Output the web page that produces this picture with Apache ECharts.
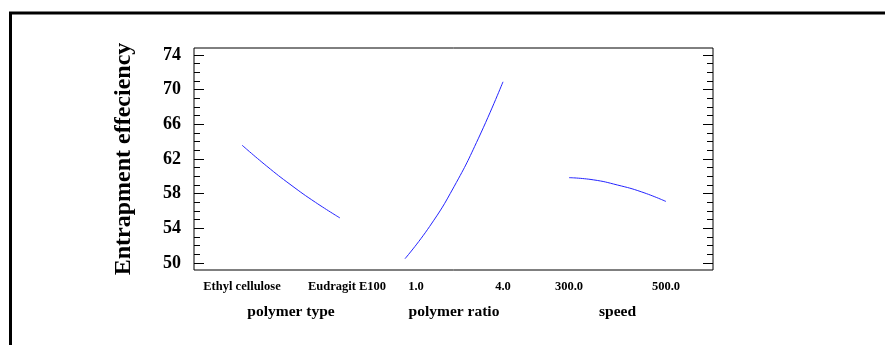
<!DOCTYPE html>
<html><head><meta charset="utf-8">
<script src="https://cdn.jsdelivr.net/npm/echarts@6/dist/echarts.min.js"></script>
<style>html,body{margin:0;padding:0;background:#fff}#c{width:885px;height:345px}</style>
</head><body><div id="c"></div>
<script>
// ---- data ----
const yTickValues = [50, 54, 58, 62, 66, 70, 74];
const yMinorValues = [50,51,52,53,54,55,56,57,58,59,60,61,62,63,64,65,66,67,68,69,70,71,72,73,74];
const yAxisTitle = 'Entrapment effeciency';
const factorNames = ['polymer type', 'polymer ratio', 'speed'];

const typeTicks = [-1, 1];
const typeTickLabels = ['Ethyl cellulose', 'Eudragit E100'];
const typeX = [-1, -0.5, 0, 0.5, 1];
const typeY = [63.6, 61.2, 59.0, 57.0, 55.2];

const ratioTicks = [1.0, 4.0];
const ratioTickLabels = ['1.0', '4.0'];
const ratioX = [1.0, 1.75, 2.5, 3.25, 4.0];
const ratioY = [50.5, 54.2, 58.8, 64.4, 70.9];

const speedTicks = [300, 500];
const speedTickLabels = ['300.0', '500.0'];
const speedX = [300, 350, 400, 450, 500];
const speedY = [59.85, 59.6, 59.0, 58.2, 57.1];

// ---- chart ----
const FONT = '"Liberation Serif", "Times New Roman", serif';
const Y_MIN = 49.2, Y_MAX = 74.8;
const TOP = 48, HEIGHT = 222;

function zip(xs, ys) { return xs.map((x, i) => [x, ys[i]]); }

function panelX(gridIndex, ticks, labels, name, pads) {
  return {
    type: 'value', gridIndex, min: ticks[0], max: ticks[ticks.length - 1],
    axisLine: {show: false}, axisTick: {show: false}, splitLine: {show: false},
    axisLabel: {
      customValues: ticks, margin: 10, showMinLabel: true, showMaxLabel: true,
      formatter: function (v) {
        const i = ticks.indexOf(v);
        return '{' + (pads[i] ? 'p' + i : 'n') + '|' + labels[i] + '}';
      },
      rich: {
        n: {fontFamily: FONT, fontWeight: 'bold', fontSize: 12.5, color: '#000'},
        p0: {fontFamily: FONT, fontWeight: 'bold', fontSize: 12.5, color: '#000', padding: [0, 0, 0, pads[0] || 0]},
        p1: {fontFamily: FONT, fontWeight: 'bold', fontSize: 12.5, color: '#000', padding: [0, 0, 0, pads[1] || 0]}
      }
    },
    name: name, nameLocation: 'middle', nameGap: 34,
    nameTextStyle: {fontFamily: FONT, fontWeight: 'bold', fontSize: 15.5, color: '#000'}
  };
}

function hiddenY(gridIndex) {
  return {type: 'value', gridIndex, min: Y_MIN, max: Y_MAX, show: false, splitLine: {show: false}};
}

function tickY(position, values, len, labels) {
  const o = {
    type: 'value', gridIndex: 0, position, min: Y_MIN, max: Y_MAX,
    axisLine: {show: false},
    axisTick: {show: true, inside: true, length: len, customValues: values, lineStyle: {color: '#000', width: 1}},
    axisLabel: {show: false},
    splitLine: {show: false}
  };
  if (labels) {
    o.axisLabel = {show: true, customValues: values, margin: 13, fontFamily: FONT, fontWeight: 'bold', fontSize: 18, color: '#000'};
    o.name = yAxisTitle;
    o.nameLocation = 'middle';
    o.nameGap = 58;
    o.nameRotate = 90;
    o.nameTextStyle = {fontFamily: FONT, fontWeight: 'bold', fontSize: 24, color: '#000'};
  }
  return o;
}

const chart = echarts.init(document.getElementById('c'), null, {renderer: 'canvas'});
chart.setOption({
  animation: false,
  backgroundColor: '#fff',
  grid: [
    {left: 194, top: TOP, width: 519, height: HEIGHT, show: true, borderColor: '#000', borderWidth: 1, backgroundColor: 'transparent', outerBoundsMode: 'none'},
    {left: 242, top: TOP, width: 98, height: HEIGHT, outerBoundsMode: 'none'},
    {left: 405, top: TOP, width: 98, height: HEIGHT, outerBoundsMode: 'none'},
    {left: 569, top: TOP, width: 97, height: HEIGHT, outerBoundsMode: 'none'}
  ],
  xAxis: [
    {type: 'value', gridIndex: 0, min: 0, max: 1, show: false},
    panelX(1, typeTicks, typeTickLabels, factorNames[0], [0, 14]),
    panelX(2, ratioTicks, ratioTickLabels, factorNames[1], [22, 0]),
    panelX(3, speedTicks, speedTickLabels, factorNames[2], [0, 0])
  ],
  yAxis: [
    tickY('left', yTickValues, 10, true),
    tickY('left', yMinorValues, 6, false),
    tickY('right', yTickValues, 10, false),
    tickY('right', yMinorValues, 6, false),
    hiddenY(1), hiddenY(2), hiddenY(3)
  ],
  series: [
    {type: 'line', xAxisIndex: 1, yAxisIndex: 4, data: zip(typeX, typeY), showSymbol: false, smooth: true, lineStyle: {color: '#2424ff', width: 1}},
    {type: 'line', xAxisIndex: 2, yAxisIndex: 5, data: zip(ratioX, ratioY), showSymbol: false, smooth: true, lineStyle: {color: '#2424ff', width: 1}},
    {type: 'line', xAxisIndex: 3, yAxisIndex: 6, data: zip(speedX, speedY), showSymbol: false, smooth: true, lineStyle: {color: '#2424ff', width: 1}}
  ],
  graphic: [
    {type: 'rect', silent: true, z: 100, shape: {x: 10.5, y: 13, width: 2000, height: 2000}, style: {fill: 'none', stroke: '#000', lineWidth: 3}}
  ]
});
</script>
</body></html>
